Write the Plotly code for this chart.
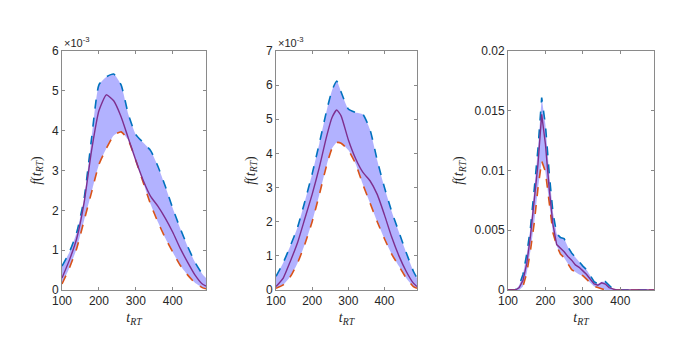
import plotly.graph_objects as go

# panel 1 (values in units of 1e-3)
t1 = [100, 120, 140, 160, 180, 200, 220, 240, 260, 280, 300, 320, 340, 360, 380, 400, 420, 440, 460, 480, 490]
upper1 = [0.6, 0.95, 1.45, 2.3, 3.8, 5.15, 5.35, 5.42, 5.15, 4.4, 3.9, 3.7, 3.5, 3.1, 2.6, 2.05, 1.55, 1.1, 0.7, 0.4, 0.3]
lower1 = [0.15, 0.55, 1.05, 1.75, 2.45, 3.15, 3.55, 3.88, 3.97, 3.75, 3.25, 2.7, 2.15, 1.7, 1.3, 0.95, 0.62, 0.38, 0.18, 0.06, 0.03]
mean1 = [0.3, 0.75, 1.3, 2.2, 3.5, 4.5, 4.9, 4.75, 4.35, 3.8, 3.25, 2.75, 2.35, 2.1, 1.8, 1.45, 1.05, 0.7, 0.38, 0.15, 0.1]

# panel 2 (values in units of 1e-3)
t2 = [100, 120, 140, 160, 180, 200, 220, 240, 255, 268, 280, 300, 320, 340, 360, 380, 400, 420, 440, 460, 480, 490]
upper2 = [0.4, 0.8, 1.3, 1.85, 2.6, 3.4, 4.3, 5.25, 5.85, 6.12, 5.8, 5.3, 5.2, 5.15, 4.7, 3.8, 3.0, 2.3, 1.7, 1.1, 0.55, 0.35]
lower2 = [0.05, 0.15, 0.4, 0.8, 1.35, 2.0, 2.8, 3.65, 4.15, 4.32, 4.3, 4.1, 3.7, 3.1, 2.55, 2.0, 1.5, 1.05, 0.7, 0.35, 0.1, 0.05]
mean2 = [0.1, 0.35, 0.85, 1.4, 2.1, 2.8, 3.6, 4.5, 5.05, 5.27, 5.1, 4.4, 3.85, 3.45, 3.2, 2.8, 2.2, 1.55, 1.0, 0.55, 0.2, 0.1]

# panel 3
t3 = [100, 110, 120, 130, 140, 150, 160, 170, 180, 190, 200, 210, 220, 230, 240, 250, 260, 270, 280, 290,
      300, 310, 320, 330, 340, 350, 360, 370, 380, 390, 400, 490]
upper3 = [0, 0, 0, 0.0004, 0.0013, 0.003, 0.0052, 0.0084, 0.0118, 0.0161, 0.0138, 0.0098, 0.0065, 0.0047, 0.0044, 0.0043,
          0.0036, 0.0031, 0.0027, 0.0023, 0.002, 0.0017, 0.0012, 0.0007, 0.0005, 0.0007, 0.0007, 0.0004, 0.0001, 0, 0, 0]
lower3 = [0, 0, 0, 0, 0.0003, 0.0014, 0.0033, 0.0056, 0.0085, 0.0108, 0.0099, 0.0073, 0.0048, 0.0037, 0.003, 0.0027,
          0.0022, 0.0017, 0.0015, 0.0013, 0.0012, 0.0009, 0.0006, 0.0003, 0.0002, 0.0001, 0, 0, 0, 0, 0, 0]
mean3 = [0, 0, 0, 0.0002, 0.0008, 0.0022, 0.0045, 0.0075, 0.0105, 0.0147, 0.0122, 0.0085, 0.0055, 0.0038, 0.0035, 0.0032,
         0.0028, 0.0025, 0.0021, 0.0019, 0.0016, 0.0013, 0.0009, 0.0005, 0.0004, 0.0006, 0.0005, 0.0002, 0.0001, 0, 0, 0]

BLUE = "#0072BD"
RED = "#D95319"
PURPLE = "#7E2F8E"
FILL = "rgba(0,0,255,0.3)"
INK = "#262626"
FRAME = "#8a8a8a"

# page body has an 8px default margin, so the figure sits 8px in from the corner
OFF = 8
W, H = 681 - 2 * OFF, 341 - 2 * OFF
x_dom = [(62, 206), (276, 417), (508, 654)]  # window pixels
y_top, y_bot = 51, 290

panels = [
    (t1, upper1, lower1, mean1, "spline"),
    (t2, upper2, lower2, mean2, "spline"),
    (t3, upper3, lower3, mean3, "linear"),
]

fig = go.Figure()
for i, (t, up, lo, mn, shape) in enumerate(panels):
    xa = "x" if i == 0 else f"x{i + 1}"
    ya = "y" if i == 0 else f"y{i + 1}"
    sm = 0.5 if shape == "spline" else None
    fig.add_trace(go.Scatter(x=t, y=up, mode="lines", line=dict(width=0, shape=shape, smoothing=sm),
                             xaxis=xa, yaxis=ya, showlegend=False, hoverinfo="skip"))
    fig.add_trace(go.Scatter(x=t, y=lo, mode="lines", line=dict(width=0, shape=shape, smoothing=sm),
                             fill="tonexty", fillcolor=FILL,
                             xaxis=xa, yaxis=ya, showlegend=False, hoverinfo="skip"))
    fig.add_trace(go.Scatter(x=t, y=up, mode="lines", line=dict(color=BLUE, width=1.6, dash="dash", shape=shape, smoothing=sm),
                             xaxis=xa, yaxis=ya, showlegend=False))
    fig.add_trace(go.Scatter(x=t, y=lo, mode="lines", line=dict(color=RED, width=1.6, dash="dash", shape=shape, smoothing=sm),
                             xaxis=xa, yaxis=ya, showlegend=False))
    fig.add_trace(go.Scatter(x=t, y=mn, mode="lines", line=dict(color=PURPLE, width=1.4, shape=shape, smoothing=sm),
                             xaxis=xa, yaxis=ya, showlegend=False))

axis_common = dict(
    showline=True, linecolor=FRAME, linewidth=1, mirror="allticks", automargin=False,
    ticks="inside", ticklen=3, tickcolor=FRAME, showgrid=False, zeroline=False,
    tickfont=dict(family="Liberation Sans, Arial, sans-serif", size=12, color=INK),
)
title_font = dict(family="Liberation Serif, Times New Roman, serif", size=14, color=INK)
y_ranges = [[0, 6], [0, 7], [0, 0.02]]
y_ticks = [
    ([0, 1, 2, 3, 4, 5, 6], ["0", "1", "2", "3", "4", "5", "6"]),
    ([0, 1, 2, 3, 4, 5, 6, 7], ["0", "1", "2", "3", "4", "5", "6", "7"]),
    ([0, 0.005, 0.01, 0.015, 0.02], ["0", "0.005", "0.01", "0.015", "0.02"]),
]

layout = dict(
    width=W, height=H, margin=dict(l=0, r=0, t=0, b=0), autosize=False,
    plot_bgcolor="white", paper_bgcolor="white",
    font=dict(family="Liberation Sans, Arial, sans-serif", color=INK),
)
for i in range(3):
    xk = "xaxis" if i == 0 else f"xaxis{i + 1}"
    yk = "yaxis" if i == 0 else f"yaxis{i + 1}"
    x0, x1 = x_dom[i]
    layout[xk] = dict(
        axis_common, domain=[(x0 - OFF) / W, (x1 - OFF) / W], range=[100, 490],
        tickvals=[100, 200, 300, 400], ticktext=["100", "200", "300", "400"],
        anchor="y" if i == 0 else f"y{i + 1}",
        title=dict(text="<i>t</i><sub><i>RT</i></sub>", font=title_font, standoff=4),
    )
    layout[yk] = dict(
        axis_common, domain=[1 - (y_bot - OFF) / H, 1 - (y_top - OFF) / H], range=y_ranges[i],
        tickvals=y_ticks[i][0], ticktext=y_ticks[i][1],
        anchor="x" if i == 0 else f"x{i + 1}",
        title=dict(text="<i>f</i>(<i>t</i><sub><i>RT</i></sub>)", font=title_font, standoff=7),
    )

fig.update_layout(**layout)

for i in range(2):
    x0 = x_dom[i][0]
    fig.add_annotation(
        xref="paper", yref="paper", x=(x0 - OFF) / W, y=1 - (y_top - OFF) / H,
        xanchor="left", yanchor="bottom", showarrow=False,
        text="×10<sup>-3</sup>", font=dict(family="Liberation Sans, Arial, sans-serif", size=11, color=INK),
    )

fig.write_html("out.html")
